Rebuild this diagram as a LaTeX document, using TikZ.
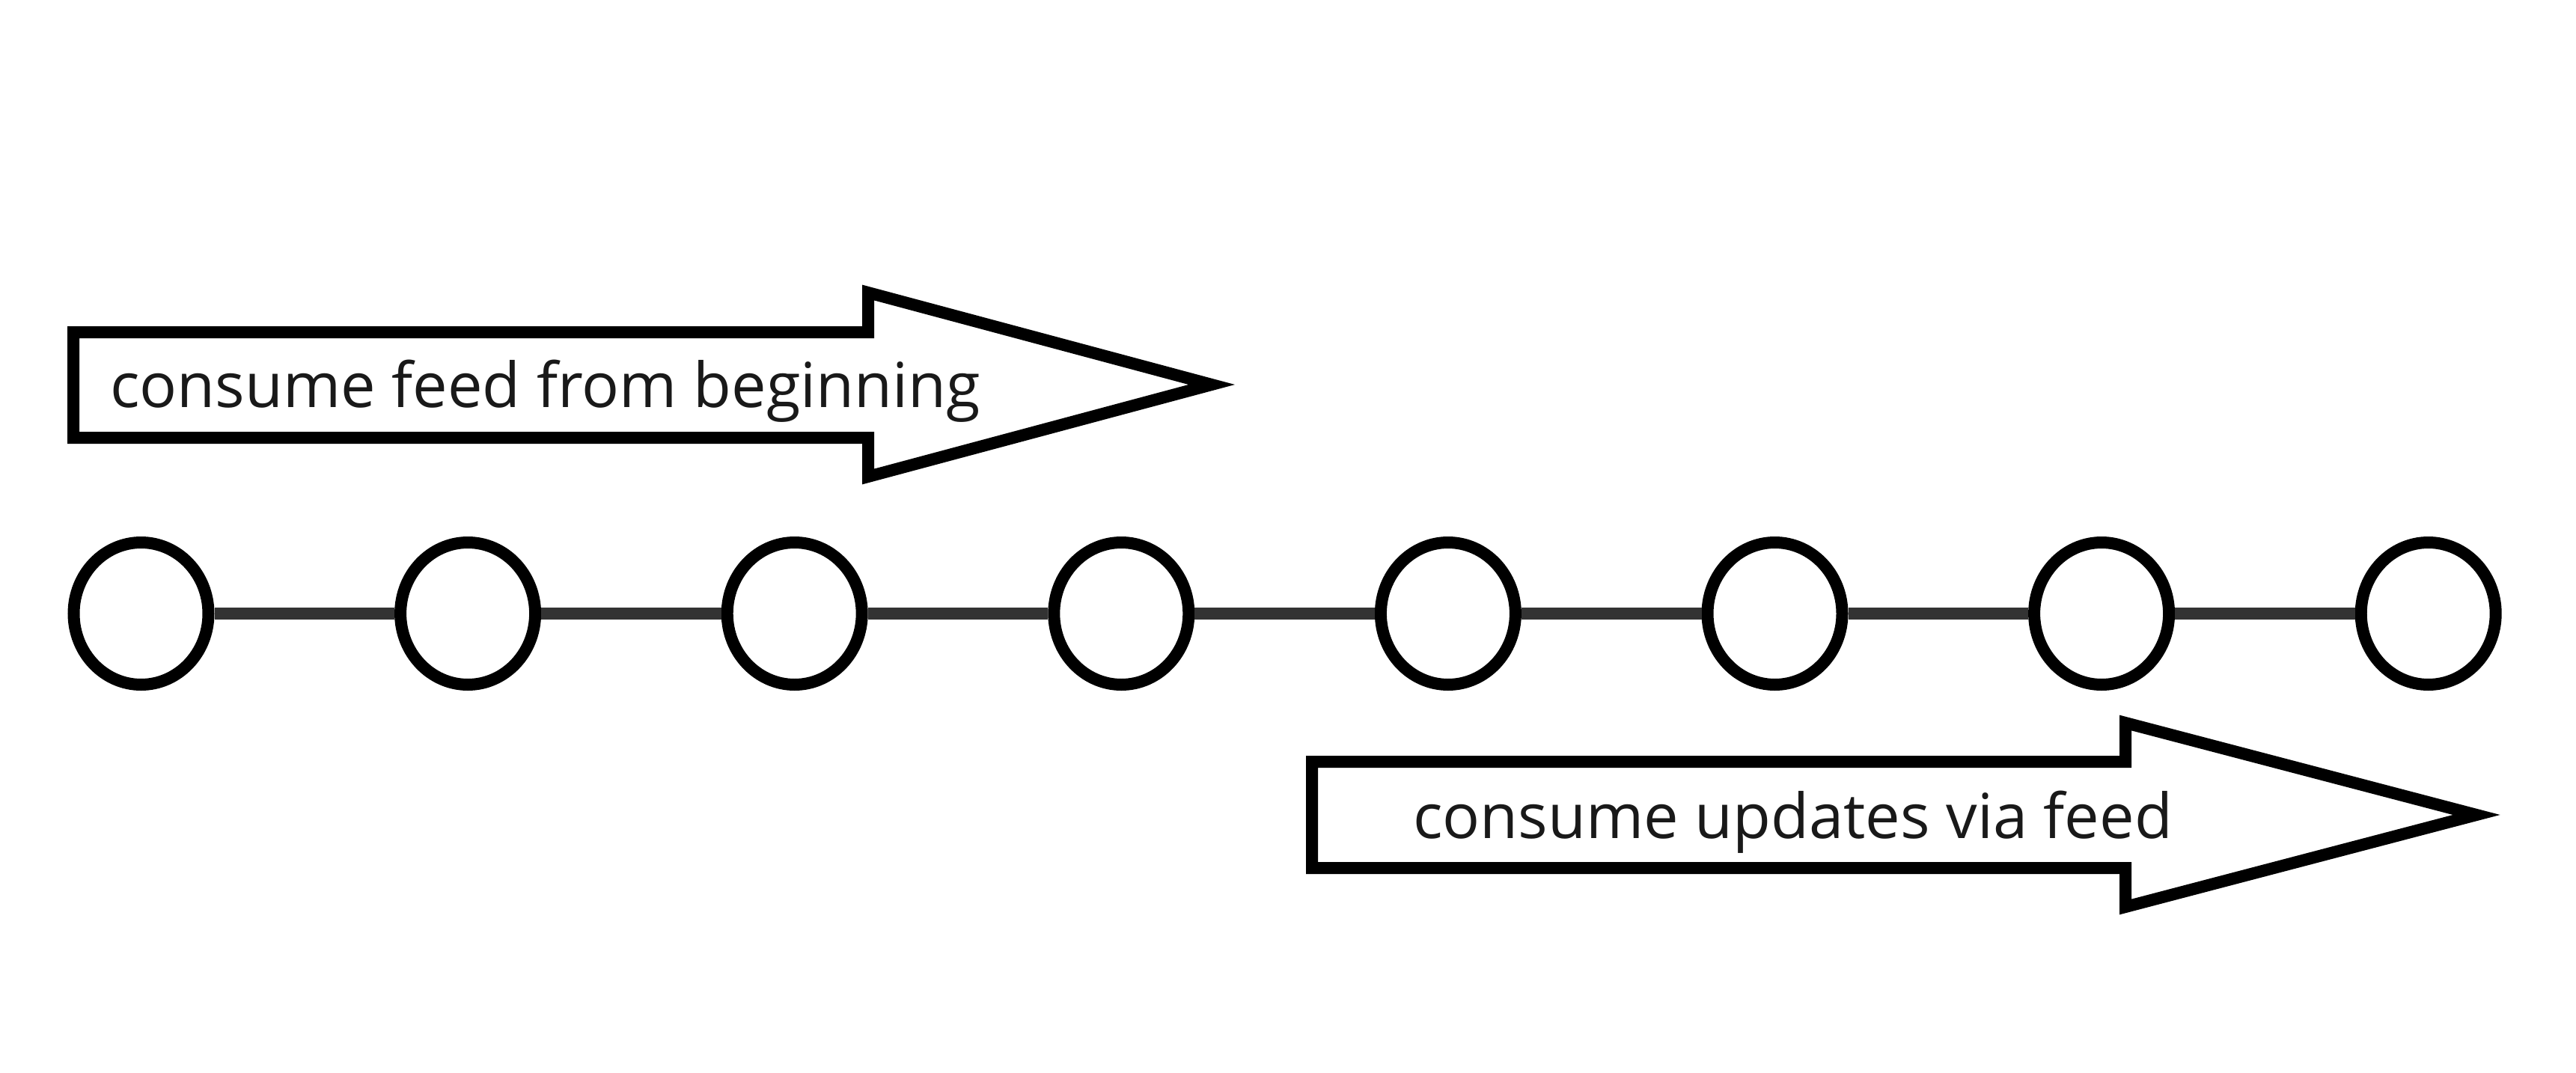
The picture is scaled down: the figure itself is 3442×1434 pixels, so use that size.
\documentclass[tikz,border=0pt]{standalone}
\usepackage{fontspec}
\setmainfont{Open Sans}
\usetikzlibrary{shapes.geometric}
\definecolor{linkgray}{HTML}{333333}
\tikzset{
  evt/.style={ellipse, draw=black, fill=white, line width=16pt, minimum width=180pt, minimum height=190pt, inner sep=0pt},
  link/.style={draw=linkgray, line width=16pt},
  bigarrow/.style={draw=black, fill=white, line width=16pt, line join=miter},
  lbl/.style={anchor=base west, inner sep=0pt, font=\fontsize{83}{100}\selectfont, text=black!90}
}
\begin{document}
\begin{tikzpicture}[x=1pt,y=-1pt]
\useasboundingbox (0,0) rectangle (3442,1434);
\fill[white] (0,0) rectangle (3442,1434);
% arrows
\draw[bigarrow] (98,444) -- (1160,444) -- (1160,391) -- (1619,514) -- (1160,637) -- (1160,585) -- (98,585) -- cycle;
\node[lbl] (t1) at (147,544) {consume feed from beginning};
\draw[bigarrow] (1753,1018) -- (2840,1018) -- (2840,966) -- (3309,1089) -- (2840,1212) -- (2840,1160) -- (1753,1160) -- cycle;
\node[lbl] (t2) at (1888,1120) {consume updates via feed};
% timeline
\foreach \i in {0,...,7} {
  \node[evt] (e\i) at ({188.5+\i*436.6},820) {};
}
\foreach \i [evaluate=\i as \j using int(\i+1)] in {0,...,6} {
  \draw[link] (e\i) -- (e\j);
}
\end{tikzpicture}
\end{document}
